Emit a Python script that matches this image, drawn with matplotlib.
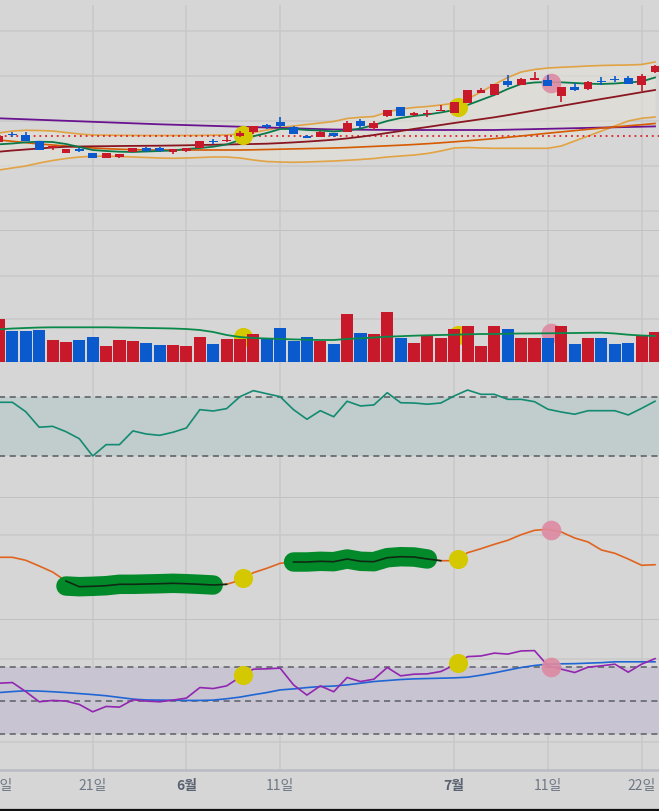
import numpy as np
import matplotlib
matplotlib.use("Agg")
import matplotlib.pyplot as plt
from matplotlib.lines import Line2D

plt.rcParams['font.family'] = ['Noto Sans CJK KR', 'DejaVu Sans']

# ---------------- data ----------------
tick_idx = [0, 7, 14, 21, 34, 41, 48]
tick_labels = ['11일', '21일', '6월', '11일', '7월', '11일', '22일']
month_labels = ['6월', '7월']

opens = [69.3, 76.5, 76.0, 69.7, 64.0, 58.0, 62.0, 58.0, 53.3, 54.3,
         59.0, 63.0, 63.0, 58.7, 60.0, 63.0, 69.7, 70.3, 74.7, 79.3,
         86.3, 89.0, 84.0, 74.5, 74.3, 78.3, 79.3, 90.0, 83.0, 95.3,
         104.0, 96.0, 97.3, 99.7, 98.0, 108.3, 118.0, 116.0, 130.0, 126.0,
         131.0, 131.0, 115.3, 124.0, 122.3, 129.8, 131.8, 133.0, 126.3, 139.0]
closes = [75.0, 76.2, 70.0, 61.3, 64.3, 62.0, 60.0, 53.3, 58.0, 57.3,
          63.0, 60.3, 60.0, 62.0, 63.3, 70.0, 69.3, 70.7, 78.0, 85.0,
          84.3, 85.0, 77.3, 73.8, 79.0, 75.0, 88.0, 85.0, 88.0, 101.0,
          95.3, 98.0, 98.0, 101.3, 109.0, 121.0, 121.0, 127.0, 126.0, 131.7,
          133.0, 125.3, 123.7, 121.0, 129.0, 129.6, 131.6, 127.3, 135.0, 145.0]
highs = [75.5, 79.0, 79.0, 69.7, 64.3, 62.0, 63.0, 58.0, 58.0, 57.3,
         63.0, 64.3, 64.3, 62.0, 63.3, 70.0, 71.7, 76.0, 80.0, 85.0,
         87.3, 94.0, 85.0, 76.0, 80.3, 78.3, 90.0, 92.3, 90.0, 101.0,
         104.0, 99.3, 101.0, 106.0, 109.0, 121.0, 123.3, 127.0, 136.0, 133.0,
         139.0, 136.0, 123.7, 127.7, 130.0, 134.0, 135.0, 135.0, 136.7, 146.3]
lows = [69.0, 73.7, 70.0, 61.3, 61.0, 58.0, 59.0, 53.3, 53.3, 53.0,
        59.0, 59.0, 58.7, 57.3, 59.0, 62.5, 67.0, 69.3, 74.0, 77.3,
        82.0, 84.0, 77.3, 72.7, 74.3, 73.7, 79.3, 83.0, 81.0, 94.3,
        95.3, 95.0, 94.3, 99.7, 98.0, 108.3, 118.0, 116.0, 124.3, 126.0,
        131.0, 125.3, 109.0, 120.0, 121.0, 125.7, 129.0, 127.3, 120.0, 137.7]

ma_short = [66.7, 67.5, 68.7, 69.3, 69.0, 67.0, 64.0, 61.0, 60.0, 59.3,
            59.0, 59.5, 60.0, 60.5, 62.0, 63.0, 64.3, 66.5, 71.0, 74.7,
            78.0, 82.0, 82.0, 81.0, 80.5, 79.5, 80.5, 82.5, 86.0, 90.0,
            93.0, 95.0, 96.5, 98.5, 101.0, 106.0, 111.0, 116.0, 122.0, 127.0,
            128.5, 129.0, 128.7, 128.0, 127.3, 127.0, 127.5, 128.5, 129.5, 133.5]
ma_mid = [59.3, 60.5, 61.5, 62.5, 63.5, 64.2, 64.5, 64.7, 64.8, 65.0,
          65.1, 65.2, 65.3, 65.5, 65.7, 66.0, 66.2, 66.5, 66.8, 67.0,
          67.3, 67.9, 68.6, 69.4, 70.3, 71.3, 72.6, 74.2, 76.0, 78.0,
          80.0, 82.1, 84.0, 86.0, 88.0, 89.9, 91.8, 93.7, 95.9, 98.2,
          100.5, 102.8, 105.1, 107.4, 109.7, 112.0, 114.2, 116.5, 118.8, 121.0]
ma_orange = [71.0, 69.7, 68.4, 67.0, 66.0, 65.0, 64.0, 63.0, 62.3, 61.8,
             61.4, 61.0, 61.0, 61.0, 61.0, 61.0, 61.0, 61.0, 61.0, 61.2,
             61.5, 61.8, 62.1, 62.4, 62.7, 63.0, 63.4, 64.0, 64.6, 65.2,
             65.8, 66.5, 67.3, 68.2, 69.2, 70.2, 71.3, 72.4, 73.7, 75.0,
             76.4, 77.8, 79.1, 80.4, 81.7, 82.9, 84.0, 85.2, 86.3, 87.5]
ma_long = [92.7, 92.2, 91.7, 91.2, 90.7, 90.2, 89.7, 89.2, 88.7, 88.2,
           87.7, 87.2, 86.7, 86.3, 85.9, 85.5, 85.1, 84.7, 84.3, 83.9,
           83.5, 83.1, 82.7, 82.3, 81.9, 81.5, 81.4, 81.3, 81.2, 81.1,
           81.0, 81.0, 81.0, 81.0, 81.0, 81.0, 81.0, 81.0, 81.3, 81.6,
           81.9, 82.2, 82.5, 82.8, 83.1, 83.4, 83.7, 84.0, 84.3, 84.6]
bb_upper = [78.0, 80.0, 80.7, 80.5, 80.0, 78.5, 77.0, 76.0, 75.8, 75.7,
            75.6, 75.5, 75.5, 75.5, 75.5, 75.6, 75.8, 76.0, 77.0, 78.5,
            81.0, 83.5, 85.0, 86.5, 88.0, 89.5, 92.5, 93.7, 94.5, 99.0,
            102.0, 103.5, 104.5, 106.0, 107.7, 112.0, 119.0, 126.5, 133.5, 139.0,
            141.5, 143.0, 143.7, 144.3, 145.0, 145.5, 145.8, 146.0, 146.5, 149.0]
bb_lower = [41.0, 43.0, 45.0, 48.0, 50.5, 52.5, 54.0, 54.7, 55.0, 54.5,
            54.0, 53.5, 53.0, 52.7, 53.0, 53.5, 54.0, 54.0, 53.0, 51.0,
            49.5, 49.0, 48.7, 49.0, 49.5, 50.0, 50.7, 51.5, 52.5, 54.0,
            55.0, 56.0, 57.5, 60.0, 63.0, 63.5, 63.0, 62.7, 62.7, 62.7,
            62.7, 62.7, 65.0, 70.0, 75.0, 80.0, 85.0, 90.0, 92.7, 94.0]
ref_level = 74.7

volume = [1000, 721, 721, 744, 512, 465, 512, 581, 372, 512,
          488, 442, 395, 395, 372, 581, 419, 535, 535, 651,
          558, 791, 488, 581, 488, 419, 1116, 674, 651, 1163,
          558, 442, 628, 558, 767, 837, 372, 837, 767, 558,
          558, 558, 837, 419, 558, 558, 419, 442, 628, 698]
volume_ma = [760, 779, 791, 802, 807, 807, 807, 807, 807, 802,
             798, 791, 786, 779, 767, 744, 698, 628, 581, 558,
             547, 535, 526, 519, 512, 512, 535, 551, 570, 588,
             600, 612, 621, 628, 635, 644, 651, 651, 658, 663,
             665, 668, 672, 674, 679, 681, 663, 635, 616, 605]

rsi = [66.6, 66.6, 60.2, 49.7, 50.3, 46.7, 41.9, 30.2, 37.9, 37.9,
       47.2, 45.1, 44.2, 46.3, 49.2, 61.6, 60.7, 62.3, 70.4, 74.5,
       72.4, 70.4, 61.6, 55.1, 60.9, 56.8, 67.3, 64.1, 64.8, 73.1,
       66.3, 66.1, 65.3, 66.1, 70.9, 74.9, 72.0, 72.0, 68.6, 68.6,
       67.0, 61.9, 60.0, 58.5, 60.9, 60.9, 60.9, 58.0, 62.5, 67.3]

osc = [42.7, 42.7, 39.7, 34.0, 28.0, 19.0, 13.3, 13.7, 14.3, 15.7,
       15.7, 16.0, 16.3, 16.7, 16.3, 15.7, 15.0, 15.7, 19.7, 27.3,
       31.7, 36.7, 38.0, 38.0, 38.7, 38.3, 41.0, 38.7, 38.3, 42.3,
       43.3, 43.0, 41.0, 39.3, 39.3, 47.3, 51.3, 55.7, 59.7, 65.3,
       69.7, 70.7, 68.0, 62.0, 58.0, 50.0, 46.7, 41.0, 34.7, 35.3]
band1_idx = list(range(5, 17))
band1_val = [14.0, 13.3, 13.7, 14.3, 15.7, 15.7, 16.0, 16.3, 16.7, 16.3, 15.7, 15.0]
band2_idx = list(range(22, 33))
band2_val = [38.0, 38.0, 38.7, 38.3, 41.0, 38.7, 38.3, 42.3, 43.3, 43.0, 41.0]

stoch_k = [60.4, 60.8, 55.4, 49.3, 50.1, 49.7, 47.7, 43.3, 46.5, 46.1,
           50.5, 49.7, 49.3, 50.3, 51.5, 57.8, 57.2, 58.8, 64.0, 68.8,
           69.0, 69.4, 59.4, 53.3, 58.8, 55.3, 63.8, 61.4, 62.8, 69.8,
           64.8, 65.8, 66.0, 67.4, 71.2, 76.3, 76.7, 78.4, 77.8, 79.7,
           79.9, 70.8, 68.8, 66.8, 70.0, 70.8, 71.8, 67.0, 71.8, 75.1]
stoch_d = [54.8, 55.4, 55.9, 55.7, 55.3, 54.8, 54.2, 53.6, 52.9, 51.9,
           50.9, 50.4, 50.3, 50.2, 50.1, 50.1, 50.3, 51.1, 52.1, 53.5,
           54.8, 56.4, 57.0, 57.8, 58.4, 58.7, 59.4, 60.4, 61.4, 62.0,
           62.6, 63.0, 63.2, 63.4, 63.6, 64.0, 65.2, 66.6, 68.2, 69.8,
           71.0, 71.8, 72.0, 72.1, 72.4, 72.7, 73.2, 73.2, 73.2, 73.2]

buy_idx = [18, 34]
sell_idx = [41]

# ---------------- style ----------------
BG = '#d6d6d6'
GRID = '#c8c8c8'
RED = '#c8192a'
BLUE = '#0a5acd'
YEL = '#d4c800'
PINK = '#de8aa2'
SEP = '#bfc1c4'

W, H = 659, 811
fig = plt.figure(figsize=(W / 100, H / 100), dpi=100, facecolor=BG)

idx = np.arange(len(opens))
X0 = -20
XLIM = ((X0 + 1) / 13.388, 660 / 13.388)
MOFF = 0.25


def panel(top, bottom, ylim, yticks):
    ax = fig.add_axes([X0 / W, 1 - bottom / H, (W - X0) / W, (bottom - top) / H])
    ax.set_facecolor(BG)
    ax.set_xlim(*XLIM)
    ax.set_ylim(*ylim)
    ax.set_xticks(tick_idx)
    ax.set_yticks(yticks)
    ax.grid(True, color=GRID, lw=1.1, zorder=0)
    ax.set_axisbelow(True)
    ax.tick_params(length=0, labelbottom=False, labelleft=False)
    for s in ('top', 'left', 'right'):
        ax.spines[s].set_visible(False)
    ax.spines['bottom'].set_color(SEP)
    ax.spines['bottom'].set_linewidth(1.4)
    return ax


# ---- price panel ----
ax1 = panel(5, 231, (-20, 206), [0, 45, 90, 135, 180])
ax1.fill_between(idx, bb_lower, bb_upper, color='#e4e2d6', alpha=0.55, lw=0, zorder=1)
ax1.plot(idx, bb_upper, color='#e3992a', lw=1.2, alpha=0.85, zorder=2)
ax1.plot(idx, bb_lower, color='#e3992a', lw=1.2, alpha=0.85, zorder=2)
ax1.axhline(ref_level, color='#e0202a', lw=1.3, ls=(0, (1, 2.2)), zorder=2)
ax1.plot(idx, ma_long, color='#6a1290', lw=1.3, zorder=3)
ax1.plot(idx, ma_orange, color='#d65a00', lw=1.2, zorder=3)
ax1.plot(idx, ma_mid, color='#8a1620', lw=1.3, zorder=3)
ax1.plot(idx, ma_short, color='#0b7a4a', lw=1.3, zorder=3)

mid = [(o + c) / 2 for o, c in zip(opens, closes)]
ax1.scatter([i + MOFF for i in buy_idx], [mid[i] for i in buy_idx], s=190, color=YEL, lw=0, zorder=4)
ax1.scatter([i + MOFF for i in sell_idx], [mid[i] for i in sell_idx], s=200, color=PINK, alpha=0.9, lw=0, zorder=4)

for i in idx:
    o, c, hi, lo = opens[i], closes[i], highs[i], lows[i]
    col = RED if c >= o else BLUE
    ax1.vlines(i, lo, hi, color=col, lw=1.2, zorder=5)
    h = abs(c - o)
    if h < 1.5:
        b, h = (o + c) / 2 - 0.75, 1.5
    else:
        b = min(o, c)
    ax1.bar(i, h, bottom=b, width=0.66, color=col, lw=0, zorder=6)

# ---- volume panel ----
ax2 = panel(231, 362, (0, 3047), [1000, 2000])
vcol = [RED if c >= o else BLUE for o, c in zip(opens, closes)]
ax2.scatter([i + MOFF for i in buy_idx], np.interp([i + MOFF for i in buy_idx], idx, volume_ma),
            s=190, color=YEL, lw=0, zorder=2)
ax2.scatter([i + MOFF for i in sell_idx], np.interp([i + MOFF for i in sell_idx], idx, volume_ma),
            s=200, color=PINK, alpha=0.9, lw=0, zorder=2)
ax2.bar(idx, volume, width=0.9, color=vcol, lw=0, zorder=3)
ax2.plot(idx, volume_ma, color='#0a8a4a', lw=1.3, zorder=4)

# ---- RSI panel ----
ax3 = panel(362, 498, (1.73, 93.9), [])
ax3.axhspan(30, 70, color='#c1cdcc', lw=0, zorder=1)
ax3.axhline(70, color='#555a5e', lw=1.1, ls=(0, (4, 3)), zorder=2)
ax3.axhline(30, color='#555a5e', lw=1.1, ls=(0, (4, 3)), zorder=2)
ax3.plot(idx, rsi, color='#138a72', lw=1.2, zorder=3)

# ---- oscillator panel ----
ax4 = panel(498, 620, (-20, 102), [65])
ax4.plot(idx, osc, color='#e0641e', lw=1.2, zorder=2)
ax4.plot(band1_idx, band1_val, color='#028a2a', lw=14, solid_capstyle='round', zorder=3)
ax4.plot(band2_idx, band2_val, color='#028a2a', lw=14, solid_capstyle='round', zorder=3)
ax4.plot(idx[5:18], osc[5:18], color='#0e2a14', lw=1.2, zorder=4)
ax4.plot(idx[22:34], osc[22:34], color='#0e2a14', lw=1.2, zorder=4)
bx = [i + MOFF for i in buy_idx]
sx = [i + MOFF for i in sell_idx]
ax4.scatter(bx, np.interp(bx, idx, osc), s=190, color=YEL, lw=0, zorder=5)
ax4.scatter(sx, np.interp(sx, idx, osc), s=200, color=PINK, alpha=0.9, lw=0, zorder=5)

# ---- stochastic panel ----
ax5 = panel(620, 770, (8.5, 98.2), [25, 75])
ax5.axhspan(30, 70, color='#c8c4d2', lw=0, zorder=1)
for lvl in (30, 50, 70):
    ax5.axhline(lvl, color='#5a5e66', lw=1.1, ls=(0, (4, 3)), zorder=2)
ax5.plot(idx, stoch_d, color='#1f66d4', lw=1.2, zorder=3)
ax5.plot(idx, stoch_k, color='#9226b0', lw=1.2, zorder=3)
ax5.scatter(bx, np.interp(bx, idx, stoch_k), s=190, color=YEL, lw=0, zorder=5)
ax5.scatter(sx, np.interp(sx, idx, stoch_k), s=200, color=PINK, alpha=0.9, lw=0, zorder=5)
ax5.spines['bottom'].set_color('#b8bcc2')
ax5.spines['bottom'].set_linewidth(1.8)

ax5.tick_params(labelbottom=True, pad=6.5)
ax5.set_xticklabels(tick_labels)
for lab in ax5.get_xticklabels():
    if lab.get_text() in month_labels:
        lab.set_fontweight('bold')
        lab.set_color('#596270')
    else:
        lab.set_color('#6e7784')
    lab.set_fontsize(10)

fig.add_artist(Line2D([0, 1], [1 / H, 1 / H], transform=fig.transFigure, color='#111111', lw=1.6))

fig.savefig('out.png', dpi=100, facecolor=BG)
